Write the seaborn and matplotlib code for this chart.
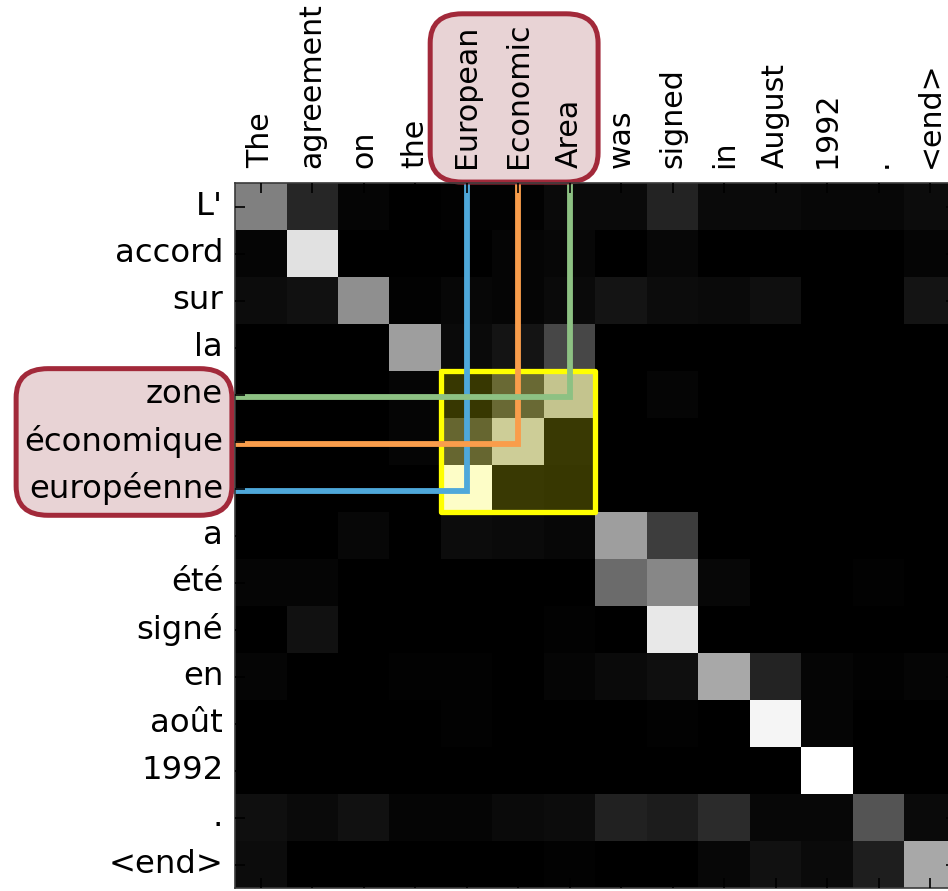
import numpy as np
import pandas as pd
import matplotlib
matplotlib.use("Agg")
import matplotlib.pyplot as plt
import seaborn as sns
from matplotlib.patches import Rectangle, FancyBboxPatch

source_words = ["The", "agreement", "on", "the", "European", "Economic", "Area",
                "was", "signed", "in", "August", "1992", ".", "<end>"]
target_words = ["L'", "accord", "sur", "la", "zone", "économique", "européenne",
                "a", "été", "signé", "en", "août", "1992", ".", "<end>"]

# attention weights: one row per target (French) word, one column per source word
attention = [
    [0.50, 0.15, 0.02, 0.00, 0.01, 0.01, 0.04, 0.04, 0.14, 0.04, 0.04, 0.03, 0.03, 0.05],
    [0.02, 0.88, 0.00, 0.00, 0.00, 0.02, 0.03, 0.00, 0.03, 0.00, 0.00, 0.00, 0.00, 0.02],
    [0.05, 0.07, 0.56, 0.01, 0.03, 0.02, 0.04, 0.08, 0.05, 0.04, 0.06, 0.00, 0.00, 0.08],
    [0.00, 0.00, 0.00, 0.62, 0.04, 0.08, 0.28, 0.00, 0.00, 0.00, 0.00, 0.00, 0.00, 0.00],
    [0.00, 0.00, 0.00, 0.02, 0.01, 0.26, 0.71, 0.00, 0.02, 0.00, 0.00, 0.00, 0.00, 0.00],
    [0.00, 0.00, 0.00, 0.02, 0.24, 0.75, 0.02, 0.00, 0.00, 0.00, 0.00, 0.00, 0.00, 0.00],
    [0.00, 0.00, 0.00, 0.00, 0.99, 0.02, 0.01, 0.00, 0.00, 0.00, 0.00, 0.00, 0.00, 0.00],
    [0.00, 0.00, 0.03, 0.00, 0.05, 0.04, 0.03, 0.62, 0.24, 0.00, 0.00, 0.00, 0.00, 0.00],
    [0.02, 0.02, 0.00, 0.00, 0.00, 0.00, 0.00, 0.42, 0.53, 0.03, 0.00, 0.00, 0.01, 0.00],
    [0.00, 0.07, 0.00, 0.00, 0.00, 0.00, 0.01, 0.00, 0.91, 0.00, 0.00, 0.00, 0.00, 0.00],
    [0.02, 0.00, 0.00, 0.01, 0.01, 0.00, 0.02, 0.04, 0.06, 0.66, 0.14, 0.02, 0.01, 0.02],
    [0.00, 0.00, 0.00, 0.00, 0.01, 0.00, 0.00, 0.00, 0.01, 0.00, 0.96, 0.02, 0.00, 0.00],
    [0.00, 0.00, 0.00, 0.00, 0.00, 0.00, 0.00, 0.00, 0.00, 0.00, 0.00, 1.00, 0.00, 0.00],
    [0.06, 0.04, 0.07, 0.02, 0.02, 0.04, 0.05, 0.13, 0.11, 0.17, 0.03, 0.03, 0.33, 0.04],
    [0.05, 0.00, 0.00, 0.00, 0.00, 0.00, 0.01, 0.00, 0.00, 0.03, 0.07, 0.04, 0.12, 0.66],
]

highlight_source = ["European", "Economic", "Area"]
highlight_target = ["européenne", "économique", "zone"]
link_colors = ["#4ea8da", "#f99d4b", "#8dc183"]

df = pd.DataFrame(attention, index=target_words, columns=source_words)

fig = plt.figure(figsize=(9.48, 8.91), dpi=100)
ax = fig.add_axes([235 / 948, 3 / 891, 721 / 948, 705 / 891])
sns.heatmap(df, ax=ax, cmap="gray", vmin=0, vmax=1, cbar=False,
            xticklabels=True, yticklabels=True)

ax.set_axisbelow(False)
ax.xaxis.tick_top()
ax.set_xlabel("")
ax.set_ylabel("")
ax.tick_params(axis="both", which="major", direction="in", length=7, width=1.2,
               color="black", top=True, bottom=True, left=True, right=True,
               labeltop=True, labelbottom=False)
ax.tick_params(axis="x", labelsize=21.6, pad=11)
ax.tick_params(axis="y", labelsize=23.3, pad=8.5)
plt.setp(ax.get_xticklabels(), rotation=90, ha="center", va="bottom")
plt.setp(ax.get_yticklabels(), rotation=0, ha="right", va="center")
for sp in ax.spines.values():
    sp.set_visible(True)
    sp.set_color("#3a3a3a")
    sp.set_linewidth(1.2)

# highlighted block
c0 = source_words.index(highlight_source[0])
r_top = target_words.index(highlight_target[-1])
n = len(highlight_source)
ax.add_patch(Rectangle((c0, r_top), n, n, facecolor="#ffff00", alpha=0.21,
                       edgecolor="none", zorder=1.4))
ax.add_patch(Rectangle((c0, r_top), n, n, facecolor="none", edgecolor="#ffff00",
                       lw=3.8, joinstyle="round", zorder=1.6, clip_on=False))

# connector lines
for s, t, col in zip(highlight_source, highlight_target, link_colors):
    cx = source_words.index(s) + 0.5
    ry = target_words.index(t) + 0.55
    ax.plot([cx, cx, -0.1], [-0.1, ry, ry], color=col, lw=4.2,
            solid_joinstyle="miter", solid_capstyle="butt",
            clip_on=False, zorder=2.0)

# rounded label boxes
box_kw = dict(boxstyle="round,pad=0,rounding_size=0.62",
              facecolor="#e8d3d5", edgecolor="#a2293a", lw=3.6,
              clip_on=False, zorder=2.2, transform=ax.transData)
ax.add_patch(FancyBboxPatch((-4.25, r_top - 0.05), 4.19, n + 0.12, **box_kw))
ax.add_patch(FancyBboxPatch((c0 - 0.21, -3.6), n + 0.26, 3.58, **box_kw))

fig.savefig("out.png", dpi=100)
